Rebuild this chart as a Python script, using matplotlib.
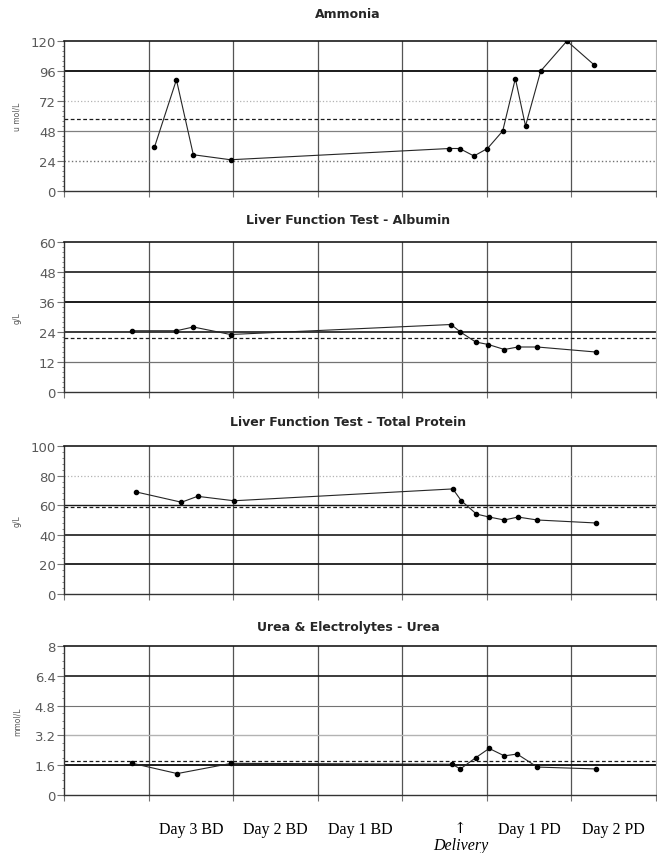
import matplotlib.pyplot as plt
from matplotlib.ticker import MultipleLocator

# x positions are in "day columns" (0..7), gridlines sit on whole numbers
day_labels = ["Day 3 BD", "Day 2 BD", "Day 1 BD", "Day 1 PD", "Day 2 PD"]
day_label_pos = [1.5, 2.5, 3.5, 5.5, 6.5]
delivery_pos = 4.69

ammonia_x = [1.07, 1.33, 1.53, 1.97, 4.56, 4.68, 4.85, 5.01, 5.19, 5.34, 5.46, 5.64, 5.95, 6.27]
ammonia_y = [35, 89, 29, 25, 34, 34, 28, 34, 48, 90, 52, 96, 120, 101]
ammonia_ref = 58

albumin_x = [0.80, 1.33, 1.53, 1.97, 4.58, 4.69, 4.87, 5.02, 5.21, 5.37, 5.60, 6.29]
albumin_y = [24.5, 24.5, 26, 23, 27, 24, 20, 19, 17, 18, 18, 16]
albumin_ref = 21.5

protein_x = [0.85, 1.39, 1.58, 2.01, 4.60, 4.70, 4.88, 5.03, 5.21, 5.37, 5.60, 6.29]
protein_y = [69, 62, 66, 63, 71, 63, 54, 52, 50, 52, 50, 48]
protein_ref = 58.5

urea_x = [0.81, 1.34, 1.98, 4.59, 4.69, 4.87, 5.03, 5.21, 5.36, 5.60, 6.29]
urea_y = [1.7, 1.15, 1.7, 1.65, 1.4, 2.0, 2.5, 2.1, 2.2, 1.5, 1.4]
urea_ref = 1.8

ammonia_ticks = [0, 24, 48, 72, 96, 120]
albumin_ticks = [0, 12, 24, 36, 48, 60]
protein_ticks = [0, 20, 40, 60, 80, 100]
urea_ticks = [0, 1.6, 3.2, 4.8, 6.4, 8]
urea_ticklabels = ["0", "1.6", "3.2", "4.8", "6.4", "8"]

fig = plt.figure(figsize=(6.57, 8.54), dpi=100)

dark = (0.1, 0.1, 0.1)
mid = (0.45, 0.45, 0.45)
light = (0.7, 0.7, 0.7)
narrow = ["Liberation Sans Narrow", "DejaVu Sans Condensed", "DejaVu Sans"]


def panel(rect, title, title_y, ylab, xs, ys, ref, ticks, ticklabels, hstyles, minor):
    ax = fig.add_axes(rect)
    ax.set_xlim(0, 7)
    ax.set_ylim(ticks[0], ticks[-1])
    # vertical day grid
    for v in range(1, 7):
        ax.axvline(v, color=(0.33, 0.33, 0.33), lw=0.9, zorder=1)
    # horizontal grid, each line looks a bit different in the scan
    for val, (c, lw, ls) in zip(ticks[1:-1], hstyles):
        ax.axhline(val, color=c, lw=lw, ls=ls, zorder=1)
    ax.axhline(ref, color=dark, lw=0.9, ls=(0, (3, 2)), zorder=2)
    ax.plot(xs, ys, color=(0.15, 0.15, 0.15), lw=0.8, marker="o", ms=3,
            mfc="black", mec="black", zorder=3)
    ax.set_yticks(ticks)
    ax.set_yticklabels(ticklabels if ticklabels else [str(t) for t in ticks])
    ax.yaxis.set_minor_locator(MultipleLocator(minor))
    ax.tick_params(axis="y", which="major", direction="out", length=5, width=0.8,
                   color=mid, labelsize=9.5, labelcolor=(0.35, 0.35, 0.35), pad=1)
    ax.tick_params(axis="y", which="minor", direction="out", length=1.5, width=0.6, color=mid)
    ax.set_xticks(range(0, 8))
    ax.tick_params(axis="x", direction="out", length=4, width=0.8, color=mid, labelbottom=False)
    for lab in ax.get_yticklabels():
        lab.set_family(narrow)
    for s in ["left", "bottom"]:
        ax.spines[s].set_color((0.2, 0.2, 0.2))
        ax.spines[s].set_linewidth(1.0)
    ax.spines["top"].set_color(dark)
    ax.spines["top"].set_linewidth(1.2)
    ax.spines["right"].set_color(light)
    ax.set_ylabel(ylab, fontsize=5.5, color=(0.35, 0.35, 0.35))
    ax.yaxis.set_label_coords(-0.072, 0.5)
    fig.text(348 / 657, 1 - title_y / 854, title, ha="center", va="center",
             fontsize=9, fontweight="bold", color=(0.15, 0.15, 0.15))
    return ax


H = 150 / 854
L = 64 / 657
W = 1 - L - 0.002

panel([L, 1 - 192 / 854, W, H], "Ammonia", 15, "u mol/L",
      ammonia_x, ammonia_y, ammonia_ref, ammonia_ticks, None,
      [((0.45, 0.45, 0.45), 1.0, ":"), ((0.5, 0.5, 0.5), 0.9, "-"),
       (light, 0.9, ":"), (dark, 1.4, "-")], 4)

panel([L, 1 - 393 / 854, W, H], "Liver Function Test - Albumin", 220, "g/L",
      albumin_x, albumin_y, albumin_ref, albumin_ticks, None,
      [(mid, 0.9, "-"), (dark, 1.2, "-"), (dark, 1.4, "-"), (dark, 1.2, "-")], 2)

panel([L, 1 - 595 / 854, W, 148 / 854], "Liver Function Test - Total Protein", 423, "g/L",
      protein_x, protein_y, protein_ref, protein_ticks, None,
      [(dark, 1.3, "-"), (dark, 1.2, "-"), (dark, 1.0, "-"), (light, 0.9, ":")], 4)

panel([L, 1 - 796 / 854, W, 149 / 854], "Urea & Electrolytes - Urea", 627, "mmol/L",
      urea_x, urea_y, urea_ref, urea_ticks, urea_ticklabels,
      [(dark, 1.4, "-"), (light, 1.0, "-"), (mid, 0.8, "-"), (dark, 1.2, "-")], 0.4)

serif = ["Liberation Serif", "DejaVu Serif"]
for lab, pos in zip(day_labels, day_label_pos):
    fig.text(L + W * pos / 7, 1 - 830 / 854, lab, ha="center", va="center",
             fontsize=11.5, family=serif)
fig.text(L + W * delivery_pos / 7, 1 - 829 / 854, "\u2191", ha="center", va="center",
         fontsize=11, family=["DejaVu Serif"])
fig.text(L + W * delivery_pos / 7, 1 - 846 / 854, "Delivery", ha="center", va="center",
         fontsize=11.5, family=serif, style="italic")

fig.savefig("out.png", dpi=100)
